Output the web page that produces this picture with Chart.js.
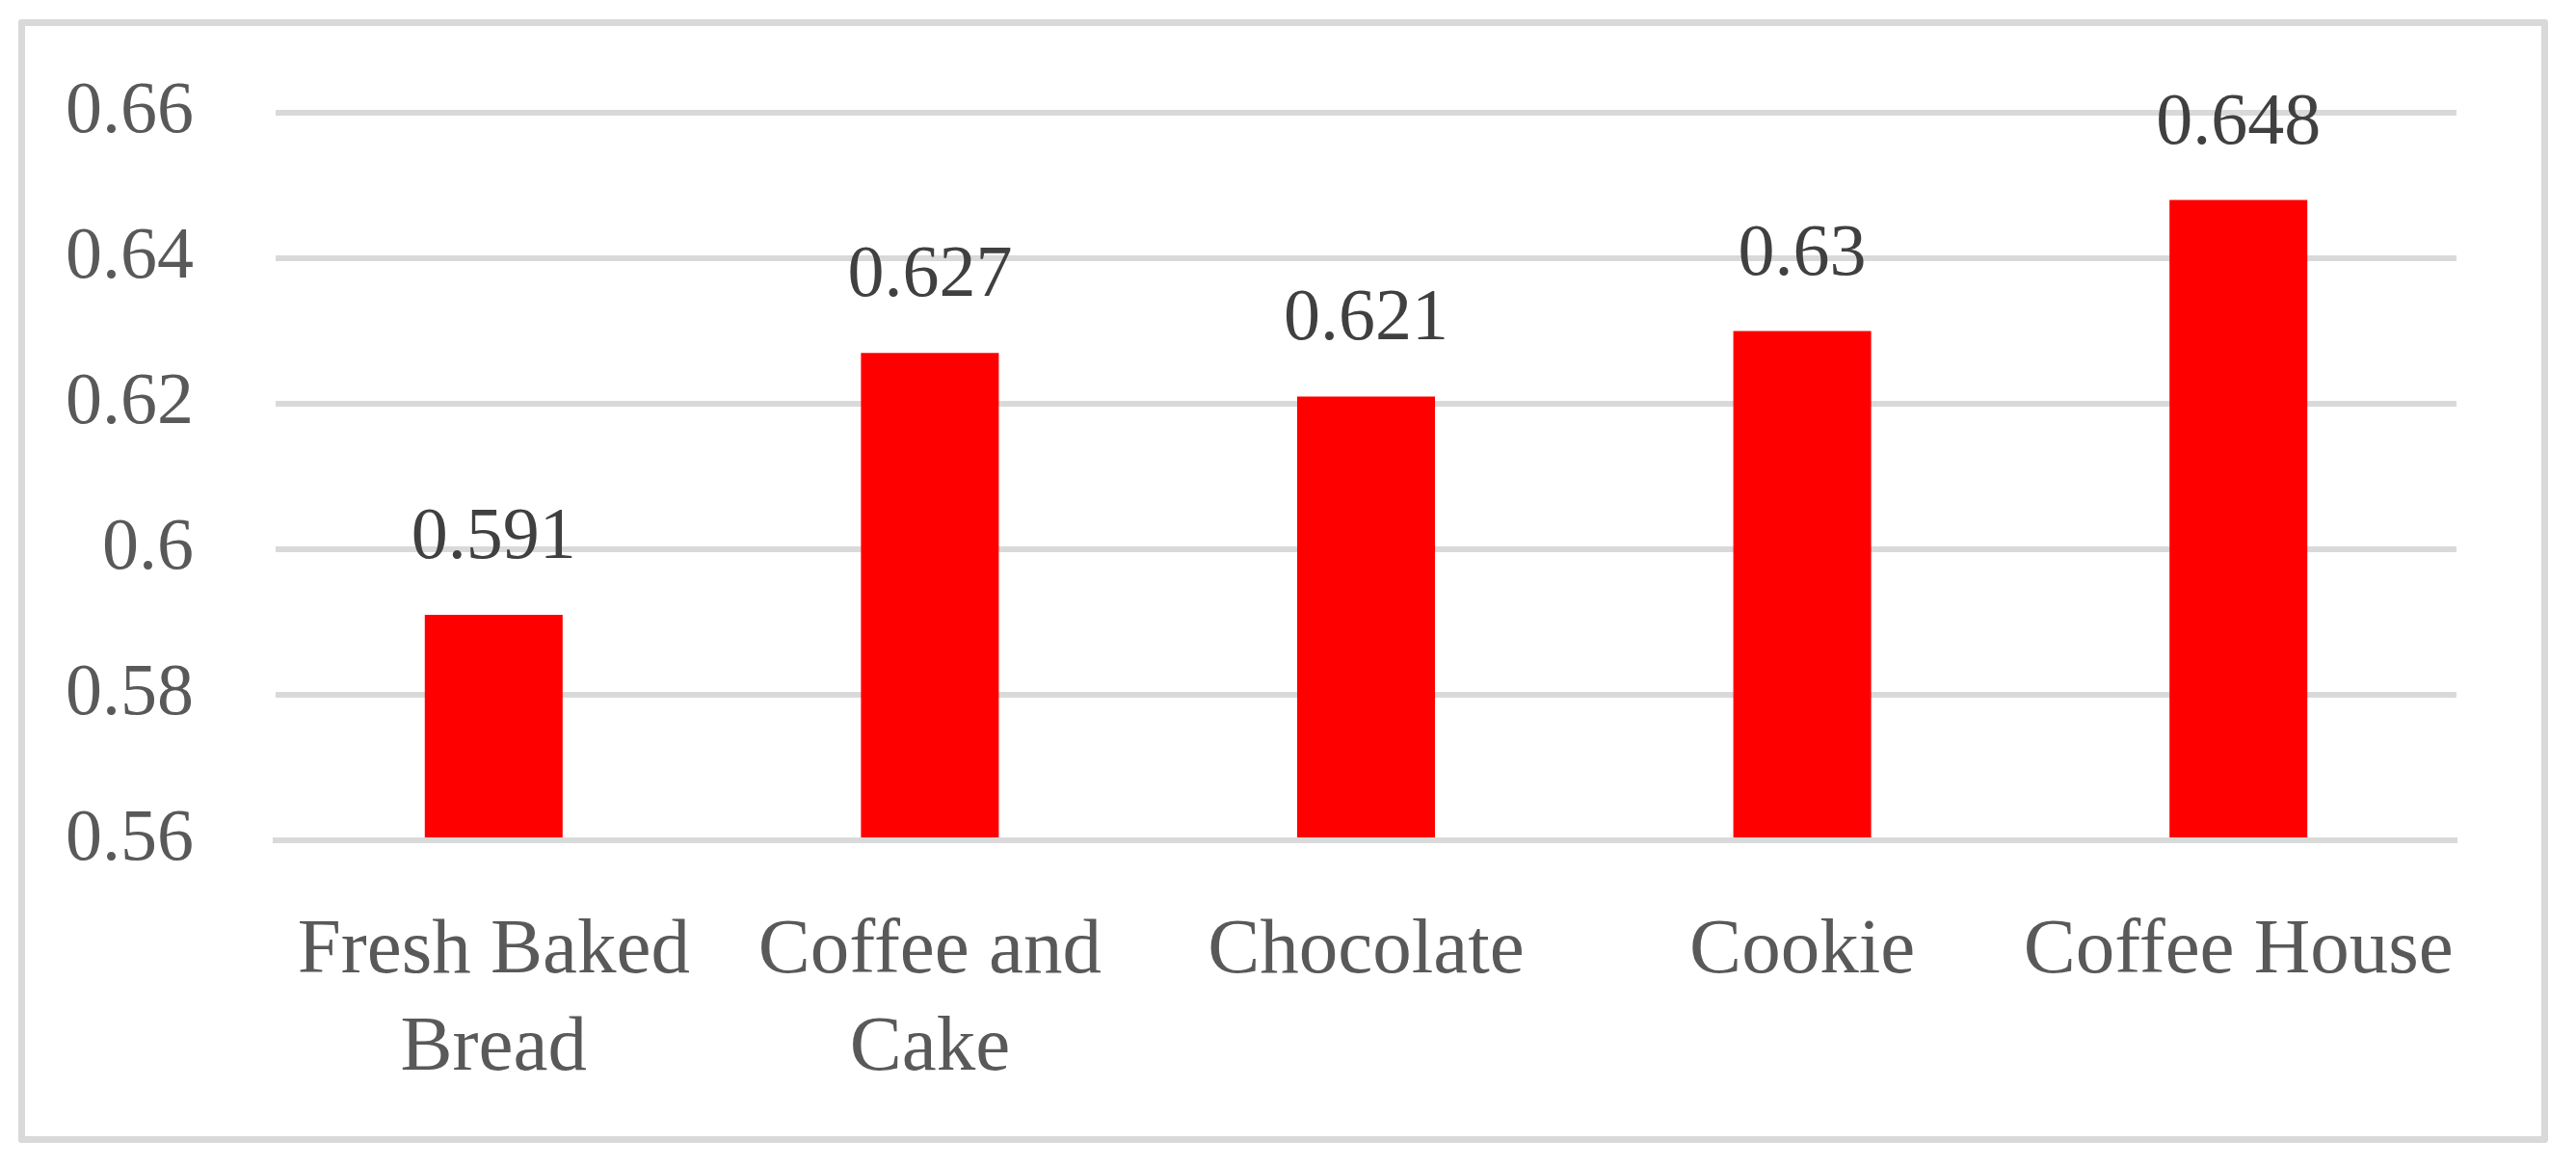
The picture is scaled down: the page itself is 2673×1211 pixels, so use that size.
<!DOCTYPE html>
<html>
<head>
<meta charset="utf-8">
<script src="https://cdn.jsdelivr.net/npm/chart.js@4"></script>
<style>
    body { margin: 0; background: #fff; }
    #frame {
        position: absolute; left: 19px; top: 20px;
        width: 2625px; height: 1166px; box-sizing: border-box;
        border: 7px solid #d9d9d9; border-radius: 3px;
    }
    #graph { position: absolute; left: 0; top: 0; }
</style>
</head>
<body>
<div id="frame"></div>
<canvas id="graph" width="2673" height="1211"></canvas>
<script>
// data
let categories = [['Fresh Baked', 'Bread'], ['Coffee and', 'Cake'], 'Chocolate', 'Cookie', 'Coffee House']
let values = [0.591, 0.627, 0.621, 0.63, 0.648]
let yTicks = [0.56, 0.58, 0.6, 0.62, 0.64, 0.66]

let serif = "'Liberation Serif', 'Times New Roman', serif"

// labels au-dessus des barres
let barLabels = {
    id: 'barLabels',
    afterDatasetsDraw(chart) {
        let ctx = chart.ctx
        let meta = chart.getDatasetMeta(0)
        ctx.save()
        ctx.font = '76px ' + serif
        ctx.fillStyle = '#404040'
        ctx.textAlign = 'center'
        ctx.textBaseline = 'alphabetic'
        meta.data.forEach((bar, i) => {
            ctx.fillText(String(values[i]), bar.x, bar.y - 59)
        })
        ctx.restore()
    }
}

let srx = document.getElementById('graph').getContext('2d')

let graph = new Chart(srx, {
    type: 'bar',
    data: {
        labels: categories,
        datasets: [
            {
                data: values,
                backgroundColor: '#ff0000',
                borderWidth: 0,
                categoryPercentage: 1,
                barPercentage: 0.316,
                base: yTicks[0],
            },
        ]
    },
    options: {
        responsive: false,
        animation: false,
        devicePixelRatio: 1,
        layout: { padding: { left: 0, right: 124, top: 117, bottom: 0 } },
        plugins: {
            legend: { display: false },
            tooltip: { enabled: false },
        },
        scales: {
            x: {
                grid: { display: false, drawTicks: false },
                border: { display: true, color: '#d9d9d9', width: 6, z: 1 },
                ticks: {
                    color: '#595959',
                    font: { family: serif, size: 81, lineHeight: 1.25 },
                    padding: 65,
                    maxRotation: 0,
                    autoSkip: false,
                },
                afterFit(scale) { scale.height = 339 }
            },
            y: {
                min: yTicks[0],
                max: yTicks[yTicks.length - 1],
                afterBuildTicks(scale) {
                    scale.ticks = yTicks.map(v => ({ value: v }))
                },
                grid: { color: '#d9d9d9', lineWidth: 6, drawTicks: false },
                border: { display: false },
                ticks: {
                    color: '#595959',
                    font: { family: serif, size: 76 },
                    padding: 85,
                    callback: v => String(+v.toFixed(2)),
                },
                afterFit(scale) {
                    scale.width = 286
                    // le padding des ticks ne doit pas pousser la zone du graphe
                    scale.paddingTop = 0
                    scale.paddingBottom = 0
                }
            }
        }
    },
    plugins: [barLabels]
})
</script>
</body>
</html>
